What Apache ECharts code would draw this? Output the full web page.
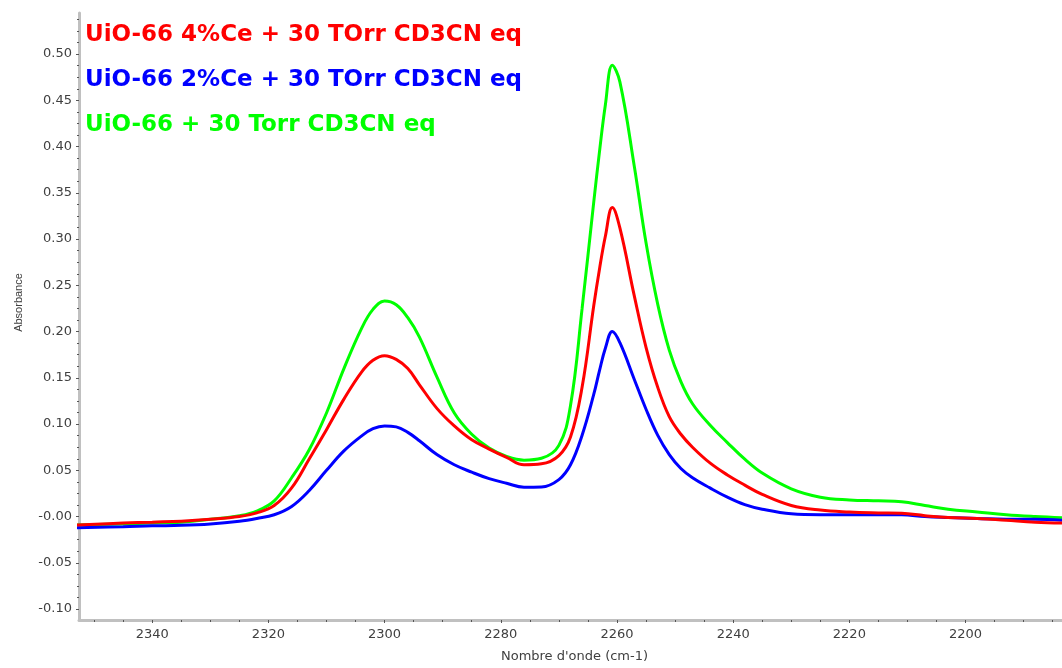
<!DOCTYPE html>
<html>
<head>
<meta charset="utf-8">
<script src="https://cdn.jsdelivr.net/npm/echarts@6/dist/echarts.min.js"></script>
<style>
  html, body { margin: 0; padding: 0; background: #fff; }
  #chart { width: 1062px; height: 668px; }
</style>
</head>
<body>
<div id="chart"></div>
<script>
// wavenumbers (cm-1)
const wavenumbers = [2353, 2345, 2340, 2335, 2330, 2325, 2322, 2319, 2316, 2313, 2310, 2307, 2304, 2302, 2300, 2298, 2296, 2294, 2291, 2288, 2285, 2282, 2279, 2276, 2273, 2270, 2268, 2266, 2264, 2263, 2262, 2260.8, 2259.5, 2257, 2255, 2253, 2251, 2249, 2247, 2244, 2241, 2238, 2235, 2230, 2225, 2220, 2215, 2211, 2207, 2203, 2198, 2193, 2188, 2183];

const ce4Values = [-0.009, -0.007, -0.006, -0.005, -0.003, 0.000, 0.004, 0.012, 0.031, 0.062, 0.094, 0.127, 0.156, 0.169, 0.174, 0.170, 0.160, 0.1425, 0.117, 0.098, 0.083, 0.073, 0.064, 0.056, 0.057, 0.066, 0.086, 0.140, 0.228, 0.268, 0.303, 0.334, 0.312, 0.238, 0.183, 0.140, 0.108, 0.089, 0.075, 0.058, 0.045, 0.034, 0.024, 0.012, 0.007, 0.005, 0.004, 0.0035, 0.001, -0.001, -0.002, -0.004, -0.006, -0.007];

const ce2Values = [-0.012, -0.011, -0.010, -0.0095, -0.008, -0.005, -0.002, 0.002, 0.011, 0.028, 0.050, 0.071, 0.087, 0.095, 0.098, 0.097, 0.091, 0.082, 0.067, 0.056, 0.048, 0.041, 0.036, 0.0318, 0.032, 0.040, 0.056, 0.088, 0.132, 0.158, 0.182, 0.200, 0.188, 0.148, 0.116, 0.088, 0.067, 0.052, 0.042, 0.031, 0.021, 0.013, 0.008, 0.003, 0.002, 0.002, 0.002, 0.002, 0.000, -0.001, -0.002, -0.003, -0.003, -0.004];

const pureValues = [-0.009, -0.008, -0.007, -0.006, -0.003, 0.001, 0.006, 0.017, 0.042, 0.072, 0.112, 0.160, 0.203, 0.224, 0.233, 0.229, 0.215, 0.194, 0.151, 0.112, 0.089, 0.074, 0.065, 0.061, 0.063, 0.077, 0.120, 0.225, 0.340, 0.395, 0.445, 0.488, 0.470, 0.378, 0.296, 0.230, 0.180, 0.146, 0.122, 0.099, 0.080, 0.062, 0.047, 0.030, 0.021, 0.018, 0.017, 0.016, 0.012, 0.008, 0.005, 0.002, 0.000, -0.0015];

const seriesNames = [
  "UiO-66 4%Ce + 30 TOrr CD3CN eq",
  "UiO-66 2%Ce + 30 TOrr CD3CN eq",
  "UiO-66 + 30 Torr CD3CN eq"
];
const seriesColors = ["#ff0000", "#0000ff", "#00ff00"];

// tick labels
const xTicks = [2340, 2320, 2300, 2280, 2260, 2240, 2220, 2200];
const yTicks = [-0.10, -0.05, 0.00, 0.05, 0.10, 0.15, 0.20, 0.25, 0.30, 0.35, 0.40, 0.45, 0.50];

// minor ticks between the labelled ones
const xMinor = [];
for (let v = 2350; v >= 2185; v -= 5) xMinor.push(v);
const yMinor = [];
for (let i = -8; i <= 43; i++) yMinor.push(+(i * 0.0125).toFixed(4));

// axis is reversed (high wavenumber on the left)
const X_MIN = 2183.4, X_MAX = 2352.6;
const Y_MIN = -0.1118, Y_MAX = 0.5444;

const pairs = (vals) => wavenumbers.map((w, i) => [w, vals[i]]);

const chart = echarts.init(document.getElementById("chart"));

const tickFont = { color: "#404040", fontSize: 13, fontFamily: "DejaVu Sans" };
const axisLineStyle = { onZero: false, lineStyle: { color: "#c0c0c0", width: 3 } };

const option = {
  animation: false,
  backgroundColor: "#ffffff",
  grid: { left: 79, right: 0, top: 13, bottom: 45 },
  legend: {
    orient: "vertical",
    left: 75,
    top: 19,
    icon: "none",
    itemWidth: 0,
    itemHeight: 0,
    itemGap: 22,
    selectedMode: false,
    textStyle: { fontSize: 23, fontWeight: "bold", fontFamily: "DejaVu Sans" },
    data: seriesNames.map((n, i) => ({ name: n, textStyle: { color: seriesColors[i] } }))
  },
  xAxis: [
    {
      type: "value",
      inverse: true,
      min: X_MIN,
      max: X_MAX,
      position: "bottom",
      name: "Nombre d'onde (cm-1)",
      nameLocation: "middle",
      nameGap: 30,
      nameTextStyle: { color: "#404040", fontSize: 13, fontFamily: "DejaVu Sans", padding: [0, 0, 0, 8] },
      axisLine: axisLineStyle,
      axisTick: { customValues: xTicks, length: 3, lineStyle: { color: "#555" } },
      axisLabel: Object.assign({ customValues: xTicks, margin: 8, formatter: (v) => String(v) }, tickFont),
      splitLine: { show: false }
    },
    {
      type: "value",
      inverse: true,
      min: X_MIN,
      max: X_MAX,
      position: "bottom",
      axisLine: { show: false, onZero: false },
      axisTick: { customValues: xMinor, length: 2, lineStyle: { color: "#555" } },
      axisLabel: { show: false },
      splitLine: { show: false }
    }
  ],
  yAxis: [
    {
      type: "value",
      min: Y_MIN,
      max: Y_MAX,
      position: "left",
      name: "Absorbance",
      nameLocation: "middle",
      nameGap: 55,
      nameTextStyle: { color: "#404040", fontSize: 11, fontFamily: "Liberation Sans", padding: [0, 0, 0, 28] },
      axisLine: axisLineStyle,
      axisTick: { customValues: yTicks, length: 3, lineStyle: { color: "#555" } },
      axisLabel: Object.assign({
        customValues: yTicks,
        margin: 7,
        formatter: (v) => (Math.abs(v) < 1e-9 ? "-0.00" : v.toFixed(2))
      }, tickFont),
      splitLine: { show: false }
    },
    {
      type: "value",
      min: Y_MIN,
      max: Y_MAX,
      position: "left",
      axisLine: { show: false, onZero: false },
      axisTick: { customValues: yMinor, length: 2, lineStyle: { color: "#555" } },
      axisLabel: { show: false },
      splitLine: { show: false }
    }
  ],
  series: [
    { name: seriesNames[2], data: pairs(pureValues), color: seriesColors[2] },
    { name: seriesNames[1], data: pairs(ce2Values), color: seriesColors[1] },
    { name: seriesNames[0], data: pairs(ce4Values), color: seriesColors[0] }
  ].map((s) => ({
    type: "line",
    name: s.name,
    data: s.data,
    xAxisIndex: 0,
    yAxisIndex: 0,
    showSymbol: false,
    smooth: 0.4,
    clip: true,
    itemStyle: { color: s.color },
    lineStyle: { color: s.color, width: 3 }
  }))
};

chart.setOption(option);
</script>
</body>
</html>
